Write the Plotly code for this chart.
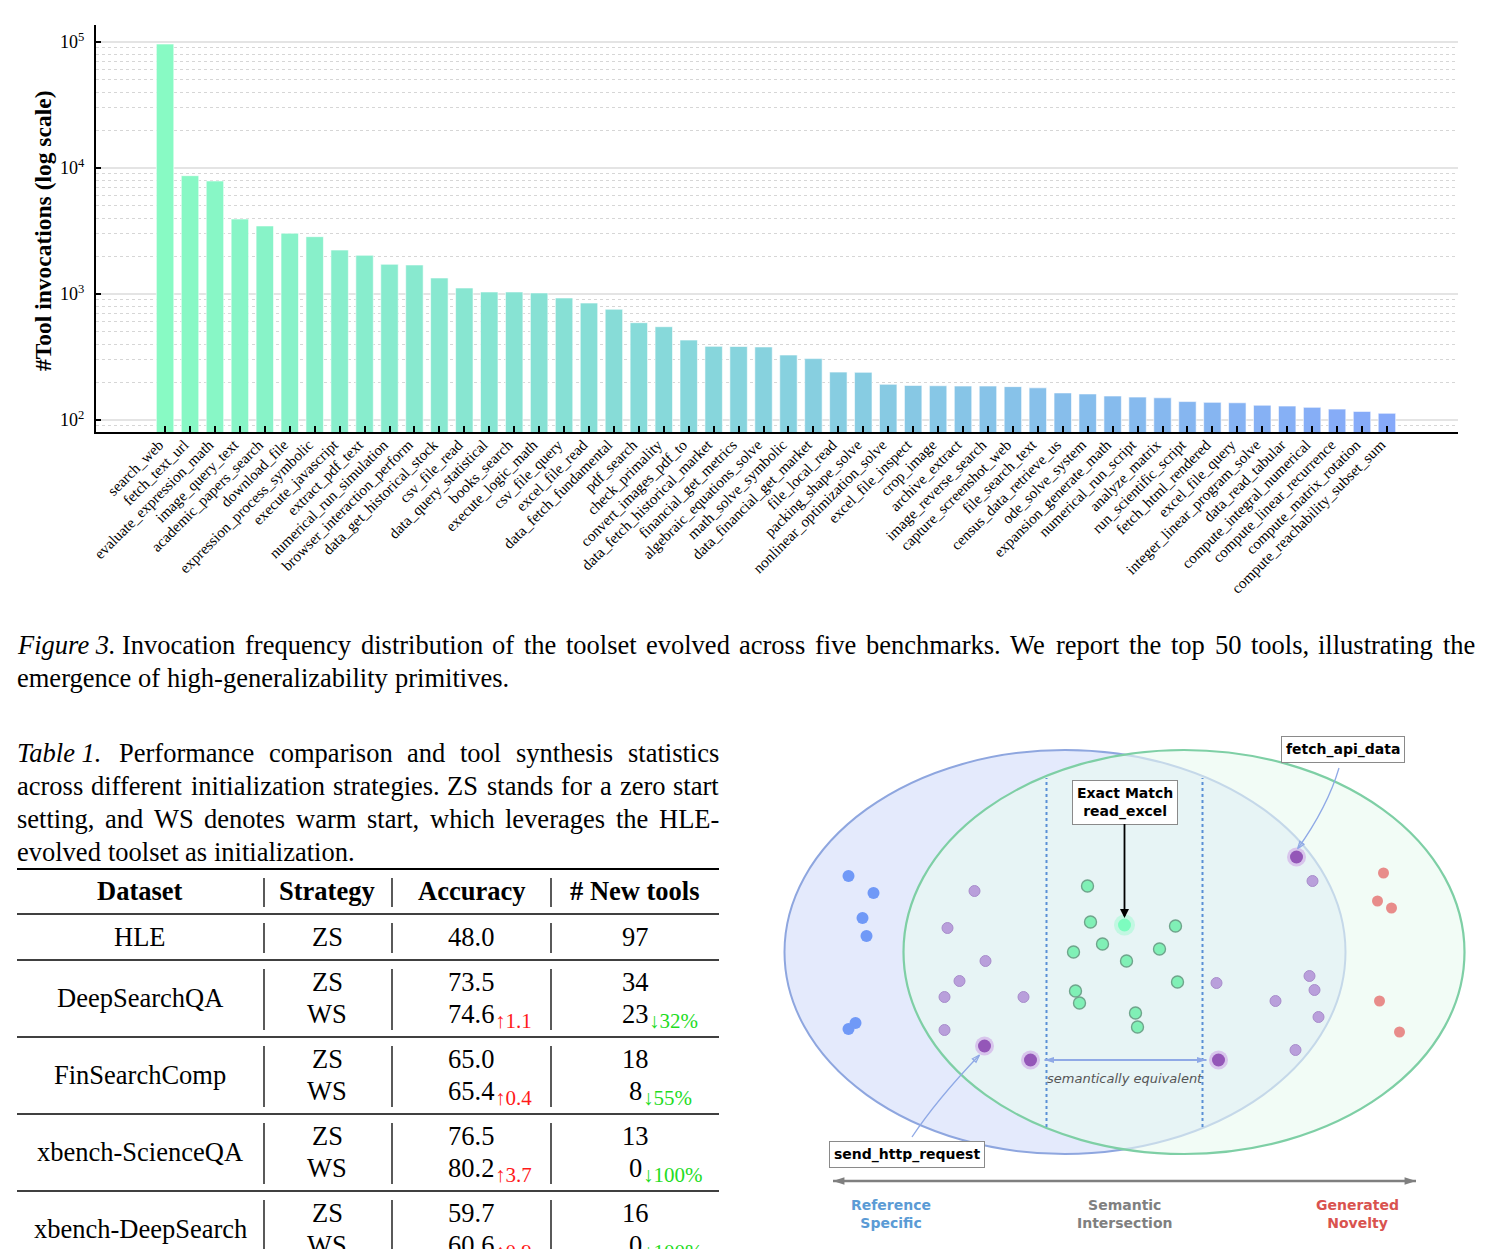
import math
import plotly.graph_objects as go

FIG_W, FIG_H = 1491, 1249

# ---------------- data: bar chart ----------------
tool_names = [
    "search_web", "fetch_text_url", "evaluate_expression_math", "image_query_text",
    "academic_papers_search", "download_file", "expression_process_symbolic",
    "execute_javascript", "extract_pdf_text", "numerical_run_simulation",
    "browser_interaction_perform", "data_get_historical_stock", "csv_file_read",
    "data_query_statistical", "books_search", "execute_logic_math", "csv_file_query",
    "excel_file_read", "data_fetch_fundamental", "pdf_search", "check_primality",
    "convert_images_pdf_to", "data_fetch_historical_market", "financial_get_metrics",
    "algebraic_equations_solve", "math_solve_symbolic", "data_financial_get_market",
    "file_local_read", "packing_shape_solve", "nonlinear_optimization_solve",
    "excel_file_inspect", "crop_image", "archive_extract", "image_reverse_search",
    "capture_screenshot_web", "file_search_text", "census_data_retrieve_us",
    "ode_solve_system", "expansion_generate_math", "numerical_run_script",
    "analyze_matrix", "run_scientific_script", "fetch_html_rendered", "excel_file_query",
    "integer_linear_program_solve", "data_read_tabular", "compute_integral_numerical",
    "compute_linear_recurrence", "compute_matrix_rotation", "compute_reachability_subset_sum",
]
tool_counts = [
    96400, 8690, 7890, 3935, 3468, 3035, 2851, 2233, 2028, 1722,
    1700, 1340, 1116, 1038, 1038, 1020, 930, 848, 757, 592,
    550, 431, 384, 383, 380, 328, 307, 240, 239, 192,
    188, 187, 186, 186, 184, 180, 164, 161, 155, 152,
    150, 140, 138, 137, 131, 129, 126, 122, 117, 113,
]
y_tick_values = [100, 1000, 10000, 100000]
y_tick_labels = ["10<sup>2</sup>", "10<sup>3</sup>", "10<sup>4</sup>", "10<sup>5</sup>"]

# ---------------- data: captions ----------------
fig_caption_label = "Figure 3."
fig_caption_lines = [
    "Invocation frequency distribution of the toolset evolved across five benchmarks. We report the top 50 tools, illustrating the",
    "emergence of high-generalizability primitives.",
]
tab_caption_label = "Table 1."
tab_caption_lines = [
    "Performance comparison and tool synthesis statistics",
    "across different initialization strategies. ZS stands for a zero start",
    "setting, and WS denotes warm start, which leverages the HLE-",
    "evolved toolset as initialization.",
]

# ---------------- data: table ----------------
table_headers = ["Dataset", "Strategy", "Accuracy", "# New tools"]
table_datasets = ["HLE", "DeepSearchQA", "FinSearchComp", "xbench-ScienceQA", "xbench-DeepSearch"]
acc_zs = [48.0, 73.5, 65.0, 76.5, 59.7]
acc_ws = [None, 74.6, 65.4, 80.2, 60.6]
acc_gain = [None, "↑1.1", "↑0.4", "↑3.7", "↑0.9"]
tools_zs = [97, 34, 18, 13, 16]
tools_ws = [None, 23, 8, 0, 0]
tools_drop = [None, "↓32%", "↓55%", "↓100%", "↓100%"]

# ---------------- data: diagram (schematic units) ----------------
ref_x = [-2.76, -2.51, -2.62, -2.58, -2.69, -2.76]
ref_y = [0.76, 0.59, 0.34, 0.16, -0.71, -0.77]
purple_x = [-1.50, -1.77, -1.39, -1.65, -1.80, -1.01, -1.80, 1.88, 0.92, 1.85, 1.90, 1.51, 1.94, 1.71]
purple_y = [0.61, 0.24, -0.09, -0.29, -0.45, -0.45, -0.78, 0.71, -0.31, -0.24, -0.38, -0.49, -0.65, -0.98]
key_x = [-1.40, -0.94, 0.94, 1.72]
key_y = [-0.94, -1.08, -1.08, 0.95]
inter_x = [-0.37, -0.34, -0.22, -0.51, 0.02, 0.35, 0.51, 0.53, -0.49, -0.45, 0.11, 0.13]
inter_y = [0.66, 0.30, 0.08, 0.00, -0.09, 0.03, 0.26, -0.30, -0.39, -0.51, -0.61, -0.75]
exact_x = [0.00]
exact_y = [0.27]
novel_x = [2.59, 2.53, 2.67, 2.55, 2.75]
novel_y = [0.79, 0.51, 0.44, -0.49, -0.80]
equiv_arrow_x = [-0.80, 0.82]
equiv_arrow_y = [-1.08, -1.08]
spectrum_arrow_x = [-2.915, 2.915]
spectrum_arrow_y = [-2.29, -2.29]
region_labels = ["Reference<br>Specific", "Semantic<br>Intersection", "Generated<br>Novelty"]
region_label_x = [-2.335, 0.0, 2.325]

# ---------------- styles ----------------
SERIF = "Liberation Serif, Times New Roman, serif"
SANS = "DejaVu Sans, Verdana, sans-serif"
BAR_START = (136, 250, 196)
BAR_END = (134, 169, 249)

TIMES_W = {
    'a': 444, 'b': 500, 'c': 444, 'd': 500, 'e': 444, 'f': 333, 'g': 500, 'h': 500, 'i': 278,
    'j': 278, 'k': 500, 'l': 278, 'm': 778, 'n': 500, 'o': 500, 'p': 500, 'q': 500, 'r': 333,
    's': 389, 't': 278, 'u': 500, 'v': 500, 'w': 722, 'x': 500, 'y': 500, 'z': 444,
    'A': 722, 'B': 667, 'C': 667, 'D': 722, 'E': 611, 'F': 556, 'G': 722, 'H': 722, 'I': 333,
    'J': 389, 'K': 722, 'L': 611, 'M': 889, 'N': 722, 'O': 722, 'P': 556, 'Q': 722, 'R': 667,
    'S': 556, 'T': 611, 'U': 722, 'V': 722, 'W': 944, 'X': 722, 'Y': 722, 'Z': 611,
    '.': 250, ',': 250, '-': 333, ' ': 250, '(': 333, ')': 333, '%': 833,
}


def text_width(s, size):
    return sum(TIMES_W.get(c, 500) for c in s) * size / 1000.0


def px_x(x):
    return x / FIG_W


def px_y(y):
    return 1 - y / FIG_H


annotations = []
shapes = []


def text_px(text, x, y, size, family=SERIF, color="black", xanchor="center", yanchor="middle", **kw):
    annotations.append(dict(
        text=text, x=px_x(x), y=px_y(y), xref="paper", yref="paper", showarrow=False,
        xanchor=xanchor, yanchor=yanchor, borderpad=0, borderwidth=0,
        font=dict(family=family, size=size, color=color), **kw))


def line_px(x0, y0, x1, y1, width=1.6, color="black"):
    shapes.append(dict(type="line", xref="paper", yref="paper",
                       x0=px_x(x0), x1=px_x(x1), y0=px_y(y0), y1=px_y(y1),
                       line=dict(color=color, width=width)))


def paragraph(label, lines, x0, x1, y_first, dy, size):
    for i, line in enumerate(lines):
        items = [(w, False) for w in line.split()]
        if i == 0:
            items = [(label, True)] + items
        widths = [text_width(w, size) for w, _ in items]
        y = y_first + i * dy
        if i == len(lines) - 1 or len(items) == 1:
            gap = 0.25 * size
        else:
            gap = (x1 - x0 - sum(widths)) / (len(items) - 1)
        x = x0
        for (w, ital), wd in zip(items, widths):
            text_px(f"<i>{w}</i>" if ital else w, x, y, size, xanchor="left")
            x += wd + gap


fig = go.Figure()

# ---------------- bar chart ----------------
n = len(tool_names)
bar_colors = []
for i in range(n):
    t = i / (n - 1)
    c = [round(BAR_START[k] + (BAR_END[k] - BAR_START[k]) * t) for k in range(3)]
    bar_colors.append(f"rgb({c[0]},{c[1]},{c[2]})")

fig.add_trace(go.Bar(
    x=tool_names, y=tool_counts, width=0.7, xaxis="x", yaxis="y", showlegend=False,
    marker=dict(color=bar_colors, line=dict(color="rgba(255,255,255,0.6)", width=1)),
))

minor_vals = [k * 10 ** d for d in range(1, 6) for k in range(2, 10)]

text_px("<b>#Tool invocations (log scale)</b>", 43, 231, 23.5, textangle=-90)

# ---------------- captions ----------------
paragraph(fig_caption_label, fig_caption_lines, 17, 1475, 645, 33, 26.5)
paragraph(tab_caption_label, tab_caption_lines, 17, 719, 753, 33, 26.5)

# ---------------- table ----------------
col_x = [140, 327, 471, 635]
sep_x = [264, 392, 551]
T_SIZE = 26.5
D_SIZE = 21
line_px(17, 869, 719, 869, 2)
line_px(17, 914, 719, 914, 1.6)
for sx in sep_x:
    line_px(sx, 878, sx, 907, 1.3)
for h, cx in zip(table_headers, col_x):
    text_px(f"<b>{h}</b>", cx, 891, T_SIZE)

top = 914
for i, name in enumerate(table_datasets):
    h = 46 if acc_ws[i] is None else 77
    bottom = top + h
    for sx in sep_x:
        line_px(sx, top + 9, sx, bottom - 7, 1.3)
    if acc_ws[i] is None:
        y0 = top + 23
        text_px(name, col_x[0], y0, T_SIZE)
        text_px("ZS", col_x[1], y0, T_SIZE)
        text_px(f"{acc_zs[i]:.1f}", col_x[2], y0, T_SIZE)
        text_px(f"{tools_zs[i]}", col_x[3], y0, T_SIZE)
    else:
        y_zs, y_ws, y_nm = top + 22, top + 54, top + 38
        text_px(name, col_x[0], y_nm, T_SIZE)
        text_px("ZS", col_x[1], y_zs, T_SIZE)
        text_px("WS", col_x[1], y_ws, T_SIZE)
        text_px(f"{acc_zs[i]:.1f}", col_x[2], y_zs, T_SIZE)
        s = f"{acc_ws[i]:.1f}"
        text_px(s, col_x[2], y_ws, T_SIZE)
        text_px(acc_gain[i], col_x[2] + text_width(s, T_SIZE) / 2 + 1, y_ws + 7, D_SIZE,
                color="#ff1a1a", xanchor="left")
        text_px(f"{tools_zs[i]}", col_x[3], y_zs, T_SIZE)
        s = f"{tools_ws[i]}"
        text_px(s, col_x[3], y_ws, T_SIZE)
        text_px(tools_drop[i], col_x[3] + text_width(s, T_SIZE) / 2 + 1, y_ws + 7, D_SIZE,
                color="#1fdc1f", xanchor="left")
    if bottom < FIG_H:
        line_px(17, bottom, 719, bottom, 1.6)
    top = bottom

# ---------------- diagram ----------------
BLUE_FILL = "#e4eafc"
BLUE_EDGE = "#8ea6df"
GREEN_FILL = "rgba(233,250,240,0.6)"
GREEN_EDGE = "#7ecfa5"
ARROW_BLUE = "#8fa9e6"

shapes.append(dict(type="circle", xref="x2", yref="y2", x0=-3.40, x1=2.21, y0=-2.02, y1=2.02,
                   fillcolor=BLUE_FILL, line=dict(color=BLUE_EDGE, width=2), layer="below"))
shapes.append(dict(type="circle", xref="x2", yref="y2", x0=-2.21, x1=3.40, y0=-2.02, y1=2.02,
                   fillcolor=GREEN_FILL, line=dict(color=GREEN_EDGE, width=2.2), layer="below"))
for vx in (-0.78, 0.78):
    shapes.append(dict(type="line", xref="x2", yref="y2", x0=vx, x1=vx, y0=-1.75, y1=1.74,
                       line=dict(color="#5a8fd6", width=2, dash="dot"), layer="below"))


def curved_arrow(start, ctrl, end):
    shapes.append(dict(type="path", xref="x2", yref="y2",
                       path=f"M {start[0]},{start[1]} Q {ctrl[0]},{ctrl[1]} {end[0]},{end[1]}",
                       line=dict(color=ARROW_BLUE, width=1.3)))
    dx, dy = end[0] - ctrl[0], end[1] - ctrl[1]
    ang = math.degrees(math.atan2(dx, dy))
    fig.add_trace(go.Scatter(x=[end[0]], y=[end[1]], mode="markers", xaxis="x2", yaxis="y2",
                             showlegend=False, cliponaxis=False,
                             marker=dict(symbol="arrow-open", size=8, angle=ang,
                                         color=ARROW_BLUE, line=dict(color=ARROW_BLUE, width=1.3))))


curved_arrow((2.145, 1.84), (2.03, 1.45), (1.73, 1.03))
curved_arrow((-2.125, -1.85), (-1.88, -1.48), (-1.45, -1.03))

# dots
fig.add_trace(go.Scatter(x=ref_x, y=ref_y, mode="markers", xaxis="x2", yaxis="y2", showlegend=False,
                         marker=dict(size=12, color="#7099f7", line=dict(width=0)), cliponaxis=False))
fig.add_trace(go.Scatter(x=purple_x, y=purple_y, mode="markers", xaxis="x2", yaxis="y2", showlegend=False,
                         marker=dict(size=11, color="#b99fdb", line=dict(width=1, color="#a88dcb")), cliponaxis=False))
fig.add_trace(go.Scatter(x=key_x, y=key_y, mode="markers", xaxis="x2", yaxis="y2", showlegend=False,
                         marker=dict(size=19, color="#d8c5ec", line=dict(width=0)), cliponaxis=False))
fig.add_trace(go.Scatter(x=key_x, y=key_y, mode="markers", xaxis="x2", yaxis="y2", showlegend=False,
                         marker=dict(size=13, color="#9457b8", line=dict(width=0)), cliponaxis=False))
fig.add_trace(go.Scatter(x=inter_x, y=inter_y, mode="markers", xaxis="x2", yaxis="y2", showlegend=False,
                         marker=dict(size=12, color="#80f0b6", line=dict(width=1.4, color="#6fa58c")), cliponaxis=False))
fig.add_trace(go.Scatter(x=exact_x, y=exact_y, mode="markers", xaxis="x2", yaxis="y2", showlegend=False,
                         marker=dict(size=21, color="rgba(125,252,191,0.35)", line=dict(width=0)), cliponaxis=False))
fig.add_trace(go.Scatter(x=exact_x, y=exact_y, mode="markers", xaxis="x2", yaxis="y2", showlegend=False,
                         marker=dict(size=13, color="#7dfcbf", line=dict(width=0)), cliponaxis=False))
fig.add_trace(go.Scatter(x=novel_x, y=novel_y, mode="markers", xaxis="x2", yaxis="y2", showlegend=False,
                         marker=dict(size=11, color="#e88c8a", line=dict(width=0)), cliponaxis=False))

# double-headed arrows
fig.add_trace(go.Scatter(x=equiv_arrow_x, y=equiv_arrow_y, mode="lines+markers", xaxis="x2", yaxis="y2",
                         showlegend=False, cliponaxis=False, line=dict(color=ARROW_BLUE, width=2),
                         marker=dict(symbol="arrow", size=10, angle=[270, 90], color=ARROW_BLUE,
                                     line=dict(width=0))))
fig.add_trace(go.Scatter(x=spectrum_arrow_x, y=spectrum_arrow_y, mode="lines+markers", xaxis="x2", yaxis="y2",
                         showlegend=False, cliponaxis=False, line=dict(color="#7f7f7f", width=2.5),
                         marker=dict(symbol="arrow", size=12, angle=[270, 90], color="#7f7f7f",
                                     line=dict(width=0))))


def ann2(text, x, y, size, color="black", **kw):
    annotations.append(dict(text=text, x=x, y=y, xref="x2", yref="y2", showarrow=False,
                            font=dict(family=SANS, size=size, color=color), **kw))


# Exact match box with its arrow (box sits at the arrow tail)
annotations.append(dict(text="<b>Exact Match<br>read_excel</b>", x=0.0, y=0.34, ax=0.0, ay=1.50,
                        xref="x2", yref="y2", axref="x2", ayref="y2", showarrow=True,
                        arrowhead=2, arrowsize=1, arrowwidth=1.8, arrowcolor="black",
                        font=dict(family=SANS, size=14, color="black"),
                        bgcolor="white", bordercolor="#8a8a8a", borderwidth=1, borderpad=4))
ann2("<b>fetch_api_data</b>", 2.18, 2.03, 14, bgcolor="white", bordercolor="#8a8a8a",
     borderwidth=1, borderpad=4)
ann2("<b>send_http_request</b>", -2.175, -2.02, 14, bgcolor="white", bordercolor="#8a8a8a",
     borderwidth=1, borderpad=4)
ann2("<i>semantically equivalent</i>", 0.0, -1.26, 13, color="#555555")
for lbl, lx, col in zip(region_labels, region_label_x, ["#5b9bd5", "#808080", "#d9534f"]):
    ann2(f"<b>{lbl}</b>", lx, -2.615, 14, color=col)

# ---------------- layout ----------------
fig.update_layout(
    width=FIG_W, height=FIG_H, autosize=False,
    margin=dict(l=0, r=0, t=0, b=0, pad=0, autoexpand=False),
    paper_bgcolor="white", plot_bgcolor="rgba(0,0,0,0)",
    bargap=0.3,
    xaxis=dict(
        domain=[px_x(96), px_x(1458)], range=[-2.77, 51.85], anchor="y",
        tickmode="array", tickvals=tool_names, ticktext=tool_names, tickangle=-45,
        ticks="inside", ticklen=6, tickwidth=1.5, tickcolor="black",
        ticklabelshift=-6, ticklabelstandoff=-4,
        showline=True, linecolor="black", linewidth=2, showgrid=False, zeroline=False,
        tickfont=dict(family=SERIF, size=15.2, color="black"), fixedrange=True, automargin=False,
    ),
    yaxis=dict(
        domain=[px_y(432), px_y(25)], type="log", range=[math.log10(80.3), 5.135], anchor="x",
        tickmode="array", tickvals=y_tick_values, ticktext=y_tick_labels,
        ticks="inside", ticklen=5, tickwidth=1.5, tickcolor="black", ticklabelstandoff=6,
        showline=True, linecolor="black", linewidth=2,
        showgrid=True, gridcolor="#e4e4e4", gridwidth=2, zeroline=False,
        minor=dict(tickmode="array", tickvals=minor_vals, showgrid=True, gridcolor="#d6d6d6",
                   griddash="dot", gridwidth=1, ticks=""),
        tickfont=dict(family=SERIF, size=18, color="black"), fixedrange=True, automargin=False,
    ),
    xaxis2=dict(domain=[px_x(780), 1], range=[-3.445, 3.665], anchor="y2", visible=False, fixedrange=True),
    yaxis2=dict(domain=[0, px_y(730)], range=[-2.97, 2.22], anchor="x2", visible=False, fixedrange=True),
    shapes=shapes,
    annotations=annotations,
)

fig.write_html("out.html", config={"displayModeBar": False})
